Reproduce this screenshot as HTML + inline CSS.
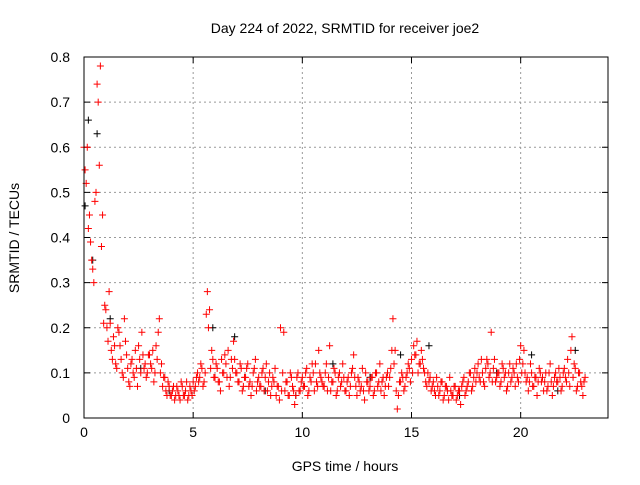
<!DOCTYPE html>
<html><head><meta charset="utf-8"><style>
body{margin:0;background:#fff;width:640px;height:480px;overflow:hidden}
text{font-family:"Liberation Sans",sans-serif;font-size:14px;fill:#000}
</style></head><body>
<svg id="chart" width="640" height="480" xmlns="http://www.w3.org/2000/svg"></svg>
<script>
const xTicks=[0,5,10,15,20];
const yTicks=[0,0.1,0.2,0.3,0.4,0.5,0.6,0.7,0.8];
const yTickLabels=["0","0.1","0.2","0.3","0.4","0.5","0.6","0.7","0.8"];
const sampleStartHour=0.05, sampleStepHour=0.1, sampleStartHour2=0.0;
const redValues=[0.55,0.6,0.45,0.35,0.3,0.5,0.7,0.78,0.45,0.25,
0.2,0.28,0.15,0.18,0.12,0.2,0.16,0.1,0.22,0.14,
0.08,0.12,0.1,0.15,0.07,0.13,0.19,0.11,0.09,0.14,
0.12,0.15,0.1,0.13,0.22,0.12,0.09,0.06,0.08,0.05,
0.06,0.04,0.07,0.05,0.08,0.05,0.06,0.04,0.07,0.05,
0.06,0.09,0.08,0.12,0.07,0.1,0.28,0.24,0.15,0.09,
0.12,0.08,0.06,0.1,0.14,0.09,0.07,0.13,0.17,0.1,
0.08,0.12,0.06,0.09,0.11,0.07,0.05,0.1,0.13,0.08,
0.07,0.1,0.06,0.12,0.08,0.05,0.09,0.11,0.07,0.04,
0.06,0.19,0.08,0.05,0.1,0.07,0.03,0.09,0.06,0.08,
0.07,0.1,0.05,0.09,0.12,0.06,0.08,0.15,0.09,0.07,
0.1,0.06,0.16,0.08,0.11,0.05,0.09,0.07,0.12,0.06,
0.08,0.05,0.1,0.14,0.07,0.09,0.06,0.11,0.04,0.08,
0.06,0.09,0.05,0.1,0.07,0.12,0.08,0.05,0.09,0.07,
0.11,0.22,0.15,0.02,0.08,0.1,0.06,0.09,0.12,0.08,
0.1,0.14,0.17,0.12,0.15,0.11,0.08,0.1,0.09,0.07,
0.06,0.09,0.05,0.08,0.04,0.07,0.06,0.09,0.05,0.07,
0.04,0.06,0.03,0.08,0.05,0.07,0.1,0.06,0.09,0.08,
0.12,0.08,0.1,0.07,0.13,0.09,0.19,0.11,0.08,0.1,
0.07,0.12,0.09,0.06,0.1,0.08,0.11,0.07,0.09,0.13,
0.1,0.15,0.08,0.06,0.12,0.07,0.09,0.05,0.11,0.08,
0.06,0.1,0.07,0.12,0.05,0.09,0.08,0.11,0.06,0.1,
0.09,0.13,0.07,0.18,0.12,0.06,0.1,0.08,0.05,0.09];
const redValues2=[0.6,0.52,0.42,0.39,0.33,0.48,0.74,0.56,0.38,0.21,
0.24,0.17,0.21,0.13,0.16,0.11,0.19,0.13,0.09,0.17,
0.11,0.07,0.13,0.09,0.11,0.16,0.1,0.14,0.12,0.1,
0.14,0.11,0.08,0.16,0.19,0.1,0.07,0.09,0.05,0.07,
0.05,0.07,0.05,0.06,0.04,0.07,0.05,0.08,0.05,0.06,
0.08,0.07,0.1,0.09,0.11,0.08,0.23,0.2,0.11,0.13,
0.09,0.11,0.08,0.13,0.1,0.12,0.15,0.09,0.11,0.13,
0.1,0.08,0.11,0.07,0.09,0.12,0.08,0.07,0.11,0.06,
0.09,0.07,0.11,0.09,0.06,0.1,0.07,0.08,0.05,0.07,
0.2,0.1,0.06,0.08,0.05,0.09,0.06,0.05,0.1,0.06,
0.09,0.07,0.11,0.06,0.08,0.1,0.12,0.07,0.1,0.08,
0.07,0.12,0.09,0.06,0.08,0.1,0.06,0.1,0.08,0.09,
0.06,0.09,0.07,0.11,0.09,0.05,0.08,0.07,0.06,0.1,
0.08,0.07,0.09,0.06,0.1,0.08,0.06,0.09,0.07,0.1,
0.09,0.15,0.12,0.06,0.05,0.08,0.09,0.07,0.1,0.11,
0.13,0.16,0.14,0.1,0.12,0.13,0.1,0.07,0.08,0.06,
0.08,0.05,0.07,0.06,0.08,0.05,0.07,0.04,0.06,0.05,
0.07,0.05,0.06,0.07,0.09,0.06,0.08,0.1,0.07,0.11,
0.1,0.09,0.13,0.08,0.11,0.12,0.1,0.08,0.13,0.09,
0.1,0.08,0.11,0.1,0.07,0.12,0.09,0.1,0.12,0.08,
0.16,0.12,0.1,0.09,0.08,0.1,0.07,0.09,0.08,0.1,
0.09,0.08,0.06,0.1,0.08,0.07,0.1,0.08,0.09,0.07,
0.11,0.08,0.1,0.15,0.09,0.11,0.07,0.1,0.07,0.08];
const blackHours=[0.05,0.2,0.4,0.6,1.2,2.6,3.9,5.9,6.9,8.3,9.7,11.4,13.1,14.5,15.8,17.2,18.9,20.5,21.7,22.5];
const blackValues=[0.47,0.66,0.35,0.63,0.22,0.11,0.06,0.2,0.18,0.06,0.05,0.12,0.09,0.14,0.16,0.05,0.1,0.14,0.06,0.15];

const L=84,R=608,T=57,B=418,XMAX=24,YMAX=0.8;
const sx=v=>L+v/XMAX*(R-L), sy=v=>B-v/YMAX*(B-T);
const svg=document.getElementById('chart');
const NS='http://www.w3.org/2000/svg';
function mk(tag,attrs){const e=document.createElementNS(NS,tag);for(const k in attrs)e.setAttribute(k,attrs[k]);svg.appendChild(e);return e;}

xTicks.forEach((t,i)=>{
  const x=sx(t);
  if(t>0){const g=mk('line',{x1:x,x2:x,y1:T,y2:B,stroke:'#999','stroke-dasharray':'2,3'});
  
  }
  const tk=mk('path',{d:`M${x} ${B}v-6M${x} ${T}v6`,stroke:'#000'});
  
  
  const lb=mk('text',{x:x,y:B+19,'text-anchor':'middle'});lb.textContent=t;
  
  
});
yTicks.forEach((t,i)=>{
  const y=sy(t);
  if(t>0&&t<YMAX){const g=mk('line',{x1:L,x2:R,y1:y,y2:y,stroke:'#999','stroke-dasharray':'2,3'});
  
  }
  const tk=mk('path',{d:`M${L} ${y}h6M${R} ${y}h-6`,stroke:'#000'});
  
  
  const lb=mk('text',{x:L-14,y:y+5,'text-anchor':'end'});lb.textContent=yTickLabels[i];
  
  
});
function plus(x,y,c,name){
  const p=mk('path',{d:`M${x-3.5} ${y}h7M${x} ${y-3.5}v7`,stroke:c,'stroke-width':1});
  
  
}
blackHours.forEach((h,i)=>plus(sx(h),sy(blackValues[i]),'#000','black-point'));
redValues.forEach((v,i)=>plus(sx(sampleStartHour+i*sampleStepHour),sy(v),'#f00','red-point'));
redValues2.forEach((v,i)=>plus(sx(sampleStartHour2+i*sampleStepHour),sy(v),'#f00','red-point'));
const fr=mk('rect',{x:L,y:T,width:R-L,height:B-T,fill:'none',stroke:'#000'});


const tt=mk('text',{x:345,y:33,'text-anchor':'middle'});tt.textContent='Day 224 of 2022, SRMTID for receiver joe2';


const xt=mk('text',{x:345,y:471,'text-anchor':'middle'});xt.textContent='GPS time / hours';


const yt=mk('text',{x:19,y:238,'text-anchor':'middle',transform:'rotate(-90 19 238)'});yt.textContent='SRMTID / TECUs';


</script>
</body></html>
